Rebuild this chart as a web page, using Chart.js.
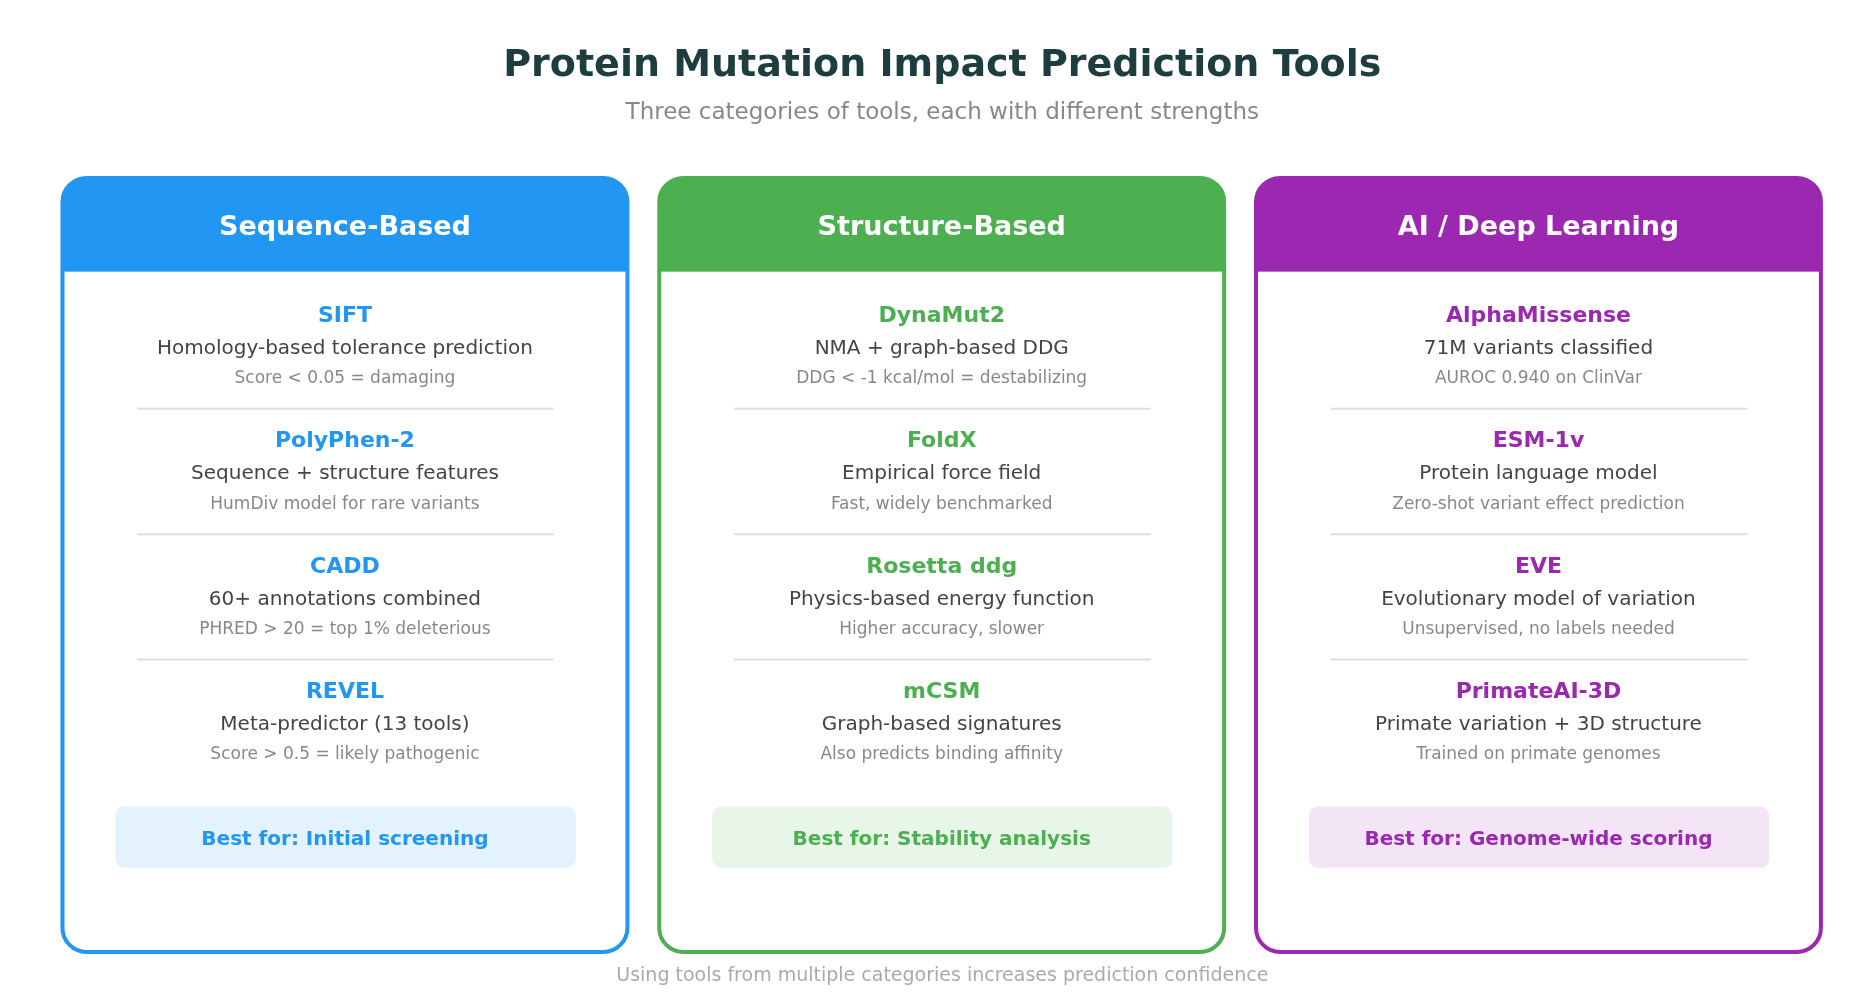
<!DOCTYPE html>
<html><head><meta charset="utf-8">
<script src="https://cdn.jsdelivr.net/npm/chart.js@4/dist/chart.umd.min.js"></script>
<style>html,body{margin:0;padding:0;background:#fff}#wrap{width:1875px;height:1000px}</style>
</head><body><div id="wrap"><canvas id="c" width="1875" height="1000"></canvas></div>
<script>
const title = "Protein Mutation Impact Prediction Tools";
const subtitle = "Three categories of tools, each with different strengths";
const footer = "Using tools from multiple categories increases prediction confidence";
const categories = ["Sequence-Based", "Structure-Based", "AI / Deep Learning"];
const colors = ["#2196F3", "#4CAF50", "#9C27B0"];
const lightColors = ["#E3F2FD", "#E8F5E9", "#F3E5F5"];
const toolNames = [
  ["SIFT", "PolyPhen-2", "CADD", "REVEL"],
  ["DynaMut2", "FoldX", "Rosetta ddg", "mCSM"],
  ["AlphaMissense", "ESM-1v", "EVE", "PrimateAI-3D"]
];
const toolDescs = [
  ["Homology-based tolerance prediction", "Sequence + structure features", "60+ annotations combined", "Meta-predictor (13 tools)"],
  ["NMA + graph-based DDG", "Empirical force field", "Physics-based energy function", "Graph-based signatures"],
  ["71M variants classified", "Protein language model", "Evolutionary model of variation", "Primate variation + 3D structure"]
];
const toolNotes = [
  ["Score < 0.05 = damaging", "HumDiv model for rare variants", "PHRED > 20 = top 1% deleterious", "Score > 0.5 = likely pathogenic"],
  ["DDG < -1 kcal/mol = destabilizing", "Fast, widely benchmarked", "Higher accuracy, slower", "Also predicts binding affinity"],
  ["AUROC 0.940 on ClinVar", "Zero-shot variant effect prediction", "Unsupervised, no labels needed", "Trained on primate genomes"]
];
const bestFor = ["Best for: Initial screening", "Best for: Stability analysis", "Best for: Genome-wide scoring"];

const S = 1875/1560;
const F = "'DejaVu Sans', sans-serif";
function rr(ctx,x,y,w,h,r){ctx.beginPath();ctx.roundRect(x,y,w,h,r);}

const cardPlugin = {
  id:'cards',
  afterDraw(chart){
    const ctx = chart.ctx, xs = chart.scales.x, ys = chart.scales.y;
    const X = v => xs.getPixelForValue(v*S), Y = v => ys.getPixelForValue(v*S);
    ctx.save();
    ctx.textAlign='center'; ctx.textBaseline='middle';
    ctx.fillStyle='#1d3d3f'; ctx.font=`bold 38px ${F}`;
    ctx.fillText(title, X(784), Y(55));
    ctx.fillStyle='#888'; ctx.font=`23px ${F}`;
    ctx.fillText(subtitle, X(784), Y(94));
    ctx.fillStyle='#aaa'; ctx.font=`19px ${F}`;
    ctx.fillText(footer, X(784), Y(812));
    const lefts=[52,548.5,1045];
    categories.forEach((cat,i)=>{
      const x0=X(lefts[i]), x1=X(lefts[i]+470), y0=Y(148), y1=Y(792), yh=Y(226), w=x1-x0;
      const cx=(x0+x1)/2, c=colors[i];
      ctx.fillStyle='#fff'; rr(ctx,x0,y0,w,y1-y0,24); ctx.fill();
      ctx.save(); rr(ctx,x0,y0,w,y1-y0,24); ctx.clip();
      ctx.fillStyle=c; ctx.fillRect(x0,y0,w,yh-y0); ctx.restore();
      ctx.strokeStyle=c; ctx.lineWidth=4; rr(ctx,x0,y0,w,y1-y0,24); ctx.stroke();
      ctx.fillStyle='#fff'; ctx.font=`bold 27px ${F}`;
      ctx.fillText(cat, cx, Y(190));
      for(let k=0;k<4;k++){
        const b=263+k*104.4;
        ctx.fillStyle=c; ctx.font=`bold 22px ${F}`; ctx.fillText(toolNames[i][k], cx, Y(b));
        ctx.fillStyle='#444'; ctx.font=`20px ${F}`; ctx.fillText(toolDescs[i][k], cx, Y(b+27));
        ctx.fillStyle='#888'; ctx.font=`17px ${F}`; ctx.fillText(toolNotes[i][k], cx, Y(b+52));
        if(k<3){ctx.strokeStyle='#e0e0e0';ctx.lineWidth=2;ctx.beginPath();
          ctx.moveTo(X(lefts[i]+62),Y(b+77));ctx.lineTo(X(lefts[i]+409),Y(b+77));ctx.stroke();}
      }
      ctx.fillStyle=lightColors[i]; rr(ctx,X(lefts[i]+44),Y(671),X(lefts[i]+427)-X(lefts[i]+44),Y(722)-Y(671),9); ctx.fill();
      ctx.fillStyle=c; ctx.font=`bold 20px ${F}`; ctx.fillText(bestFor[i], cx, Y(699));
    });
    ctx.restore();
  }
};

new Chart(document.getElementById('c'),{
  type:'scatter',
  data:{datasets:[{data:[],showLine:false}]},
  options:{responsive:false,animation:false,devicePixelRatio:1,
    layout:{padding:0},
    plugins:{legend:{display:false},tooltip:{enabled:false}},
    scales:{x:{type:'linear',min:0,max:1875,display:false},
            y:{type:'linear',min:0,max:1000,reverse:true,display:false}}},
  plugins:[cardPlugin]
});
</script></body></html>
